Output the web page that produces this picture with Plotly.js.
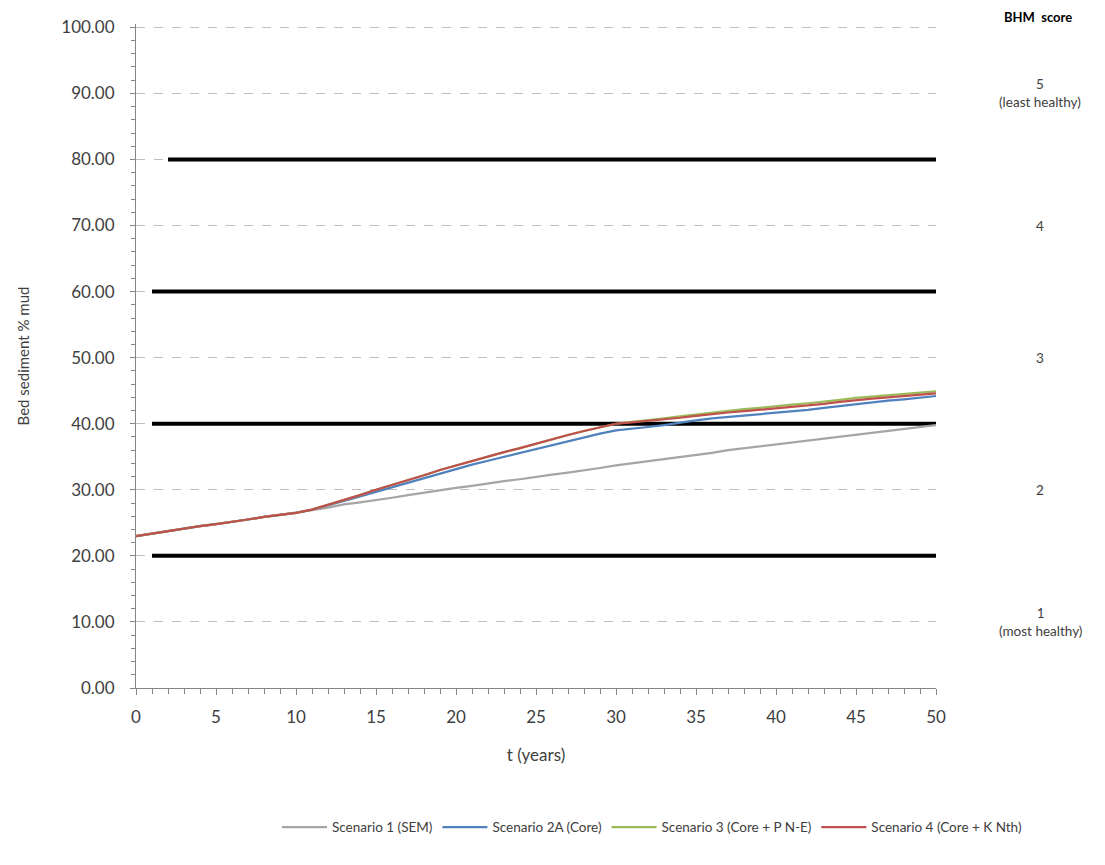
<!DOCTYPE html>
<html>
<head>
<meta charset="utf-8">
<script src="https://cdn.plot.ly/plotly-3.0.1.min.js"></script>
<style>html,body{margin:0;padding:0;background:#fff;}#chart{width:1105px;height:865px;}</style>
</head>
<body>
<div id="chart"></div>
<script>
const years = Array.from({length: 51}, (_, i) => i);

const scenario1 = [23.0,23.4,23.8,24.2,24.5,24.8,25.1,25.5,25.9,26.2,26.5,
  26.9,27.3,27.8,28.1,28.4,28.8,29.2,29.6,30.0,30.3,
  30.6,31.0,31.3,31.6,32.0,32.3,32.6,32.9,33.3,33.7,
  34.0,34.3,34.6,34.9,35.2,35.6,36.0,36.3,36.6,36.9,
  37.2,37.5,37.8,38.1,38.4,38.7,39.0,39.3,39.5,39.8];

const scenario2A = [23.0,23.4,23.8,24.2,24.5,24.8,25.1,25.5,25.9,26.2,26.5,
  27.0,27.6,28.3,29.0,29.7,30.4,31.1,31.8,32.5,33.2,
  33.8,34.4,35.0,35.6,36.2,36.7,37.3,37.9,38.5,39.0,
  39.2,39.5,39.8,40.2,40.5,40.8,41.0,41.2,41.4,41.6,
  41.9,42.1,42.4,42.7,43.0,43.2,43.5,43.7,43.9,44.2];

const scenario3 = [23.0,23.4,23.8,24.2,24.5,24.8,25.1,25.5,25.9,26.2,26.5,
  27.0,27.7,28.4,29.2,30.0,30.7,31.4,32.2,33.0,33.7,
  34.3,35.0,35.7,36.3,37.0,37.6,38.3,38.9,39.5,40.0,
  40.3,40.5,40.8,41.1,41.4,41.7,42.0,42.2,42.4,42.7,
  42.9,43.1,43.3,43.6,43.9,44.1,44.3,44.5,44.7,44.9];

const scenario4 = [23.0,23.4,23.8,24.2,24.5,24.8,25.1,25.5,25.9,26.2,26.5,
  27.0,27.7,28.4,29.2,30.0,30.7,31.4,32.2,33.0,33.7,
  34.3,35.0,35.7,36.3,37.0,37.6,38.3,38.9,39.5,40.0,
  40.2,40.4,40.6,40.9,41.2,41.5,41.7,41.9,42.1,42.4,
  42.6,42.8,43.0,43.3,43.6,43.8,44.0,44.2,44.4,44.6];

const seriesNames = ["Scenario 1 (SEM)", "Scenario 2A (Core)", "Scenario 3 (Core + P N-E)", "Scenario 4 (Core + K Nth)"];
const seriesColors = ["#A5A5A5", "#4F81BD", "#9BBB59", "#C0504D"];

// BHM score thresholds (% mud), with the year each black line starts
const thresholdValues = [20, 40, 60, 80];
const thresholdStart = [1, 1, 1, 2];
const thresholdEnd = 50;

const bhmLabels = ["1<br>(most healthy)", "2", "3", "4", "5<br>(least healthy)"];
const bhmLabelY = [10, 30, 50, 70, 90];

const yTicks = [0,10,20,30,40,50,60,70,80,90,100];
const xTicks = [0,5,10,15,20,25,30,35,40,45,50];

const FONT = "Lato, 'Liberation Sans', sans-serif";

const traces = [];
thresholdValues.forEach((v, i) => {
  traces.push({
    x: [thresholdStart[i], thresholdEnd], y: [v, v],
    mode: "lines", line: {color: "#000000", width: 4},
    showlegend: false, hoverinfo: "skip"
  });
});
[scenario1, scenario2A, scenario3, scenario4].forEach((s, i) => {
  traces.push({
    x: years, y: s, name: seriesNames[i],
    mode: "lines", line: {color: seriesColors[i], width: 2.2}
  });
});

const annotations = [{
  text: "<b>BHM  score</b>", xref: "paper", yref: "paper",
  x: 1.128, y: 1.011, xanchor: "center", yanchor: "middle",
  showarrow: false, font: {family: FONT, size: 13, color: "#000"}
}];
bhmLabels.forEach((t, i) => {
  annotations.push({
    text: t, xref: "paper", yref: "y",
    x: 1.13, y: bhmLabelY[i], xanchor: "center", yanchor: "middle",
    showarrow: false, font: {family: FONT, size: 13.5, color: "#404040"}
  });
});

const layout = {
  width: 1105, height: 865,
  margin: {l: 136, r: 169, t: 24, b: 177},
  paper_bgcolor: "#fff", plot_bgcolor: "#fff",
  font: {family: FONT, color: "#404040"},
  showlegend: true,
  legend: {
    orientation: "h", x: 0.645, xanchor: "center", y: -0.21, yanchor: "middle",
    font: {family: FONT, size: 13.5, color: "#404040"}, itemwidth: 45
  },
  xaxis: {
    range: [0, 50], tickvals: xTicks, ticktext: xTicks.map(String),
    showgrid: false, zeroline: false,
    showline: true, linecolor: "#868686", linewidth: 1,
    ticks: "outside", ticklen: 6, tickcolor: "#868686",
    minor: {dtick: 1, ticks: "outside", ticklen: 5, tickcolor: "#868686"},
    ticklabelstandoff: 8,
    tickfont: {family: FONT, size: 17, color: "#404040"},
    title: {text: "t (years)", font: {family: FONT, size: 17, color: "#404040"}, standoff: 22}
  },
  yaxis: {
    range: [0, 100.5], tickvals: yTicks, ticktext: yTicks.map(v => v.toFixed(2)),
    showgrid: true, gridcolor: "#BFBFBF", griddash: "dash", gridwidth: 1,
    zeroline: false,
    showline: true, linecolor: "#868686", linewidth: 1,
    ticks: "outside", ticklen: 5, tickcolor: "#868686",
    minor: {dtick: 2, ticks: "outside", ticklen: 4, tickcolor: "#868686", showgrid: false},
    ticklabelstandoff: 12,
    tickfont: {family: FONT, size: 17, color: "#404040"},
    title: {text: "Bed sediment % mud", font: {family: FONT, size: 15, color: "#404040"}, standoff: 28}
  },
  annotations: annotations
};

Plotly.newPlot("chart", traces, layout, {displayModeBar: false, staticPlot: true});
</script>
</body>
</html>
